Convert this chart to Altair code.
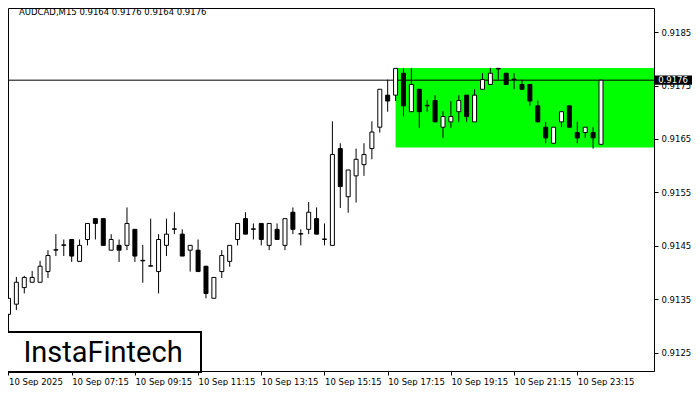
import json
import altair as alt
import pandas as pd

# ---- data (AUDCAD M15 candles, 10 Sep 2025 05:15 .. 11 Sep 00:00) ----
opens = [0.91322, 0.91341, 0.91372, 0.91382, 0.91382, 0.91402, 0.91442, 0.91451, 0.91462, 0.91421,
         0.91462, 0.91501, 0.91501, 0.91442, 0.91451, 0.91451, 0.91481, 0.91422, 0.91412, 0.91402,
         0.91451, 0.91481, 0.91472, 0.91442, 0.91442, 0.91412, 0.91352, 0.91402, 0.91421, 0.91462,
         0.91501, 0.91481, 0.91492, 0.91451, 0.91481, 0.91451, 0.91513, 0.91472, 0.91481, 0.91501,
         0.91462, 0.91451, 0.91632, 0.91542, 0.91581, 0.91602, 0.91632, 0.91672, 0.91732, 0.91732,
         0.91773, 0.91701, 0.91743, 0.91712, 0.91722, 0.91672, 0.91682, 0.91701, 0.91732, 0.91682,
         0.91743, 0.91752, 0.91781, 0.91773, 0.91762, 0.91752, 0.91752, 0.91712, 0.91672, 0.91642,
         0.91682, 0.91712, 0.91662, 0.91662, 0.91662, 0.91640]
highs = [0.91361, 0.91392, 0.91394, 0.91403, 0.91422, 0.91442, 0.91472, 0.91462, 0.91462, 0.91462,
         0.91492, 0.91501, 0.91501, 0.91472, 0.91462, 0.91522, 0.91481, 0.91452, 0.91501, 0.91472,
         0.91501, 0.91513, 0.91481, 0.91451, 0.91462, 0.91412, 0.91391, 0.91442, 0.91451, 0.91492,
         0.91513, 0.91492, 0.91492, 0.91492, 0.91492, 0.91501, 0.91522, 0.91481, 0.91532, 0.91522,
         0.91492, 0.91683, 0.91642, 0.91592, 0.91632, 0.91642, 0.91683, 0.91743, 0.91761, 0.91782,
         0.91782, 0.91782, 0.91743, 0.91723, 0.91732, 0.91702, 0.91721, 0.91732, 0.91732, 0.91743,
         0.91773, 0.91783, 0.91783, 0.91773, 0.91773, 0.91761, 0.91752, 0.91722, 0.91682, 0.91672,
         0.91701, 0.91712, 0.91682, 0.91672, 0.91672, 0.91760]
lows = [0.91311, 0.91330, 0.91361, 0.91382, 0.91382, 0.91390, 0.91431, 0.91431, 0.91420, 0.91421,
        0.91451, 0.91462, 0.91451, 0.91442, 0.91420, 0.91442, 0.91420, 0.91381, 0.91412, 0.91361,
        0.91431, 0.91472, 0.91431, 0.91402, 0.91402, 0.91352, 0.91352, 0.91390, 0.91411, 0.91451,
        0.91472, 0.91462, 0.91451, 0.91442, 0.91462, 0.91442, 0.91472, 0.91451, 0.91472, 0.91472,
        0.91451, 0.91451, 0.91521, 0.91512, 0.91531, 0.91581, 0.91612, 0.91662, 0.91701, 0.91721,
        0.91692, 0.91701, 0.91671, 0.91701, 0.91682, 0.91652, 0.91671, 0.91682, 0.91682, 0.91682,
        0.91743, 0.91752, 0.91761, 0.91752, 0.91743, 0.91743, 0.91712, 0.91682, 0.91642, 0.91642,
        0.91672, 0.91672, 0.91642, 0.91652, 0.91632, 0.91640]
closes = [0.91352, 0.91382, 0.91391, 0.91391, 0.91412, 0.91432, 0.91443, 0.91452, 0.91431, 0.91451,
          0.91492, 0.91492, 0.91451, 0.91462, 0.91442, 0.91492, 0.91431, 0.91423, 0.91413, 0.91462,
          0.91472, 0.91482, 0.91431, 0.91451, 0.91402, 0.91361, 0.91391, 0.91432, 0.91451, 0.91492,
          0.91472, 0.91482, 0.91462, 0.91492, 0.91462, 0.91501, 0.91481, 0.91473, 0.91513, 0.91472,
          0.91463, 0.91621, 0.91561, 0.91592, 0.91612, 0.91621, 0.91663, 0.91743, 0.91721, 0.91782,
          0.91712, 0.91752, 0.91701, 0.91713, 0.91682, 0.91692, 0.91692, 0.91722, 0.91692, 0.91732,
          0.91761, 0.91773, 0.91782, 0.91752, 0.91761, 0.91743, 0.91721, 0.91682, 0.91652, 0.91672,
          0.91701, 0.91672, 0.91652, 0.91672, 0.91652, 0.91760]

tick_index = [0, 8, 16, 24, 32, 40, 48, 56, 64, 72]
tick_labels = ["10 Sep 2025", "10 Sep 07:15", "10 Sep 09:15", "10 Sep 11:15", "10 Sep 13:15",
               "10 Sep 15:15", "10 Sep 17:15", "10 Sep 19:15", "10 Sep 21:15", "10 Sep 23:15"]
price_ticks = [0.9125, 0.9135, 0.9145, 0.9155, 0.9165, 0.9175, 0.9185]

header_text = "AUDCAD,M15  0.9164 0.9176 0.9164 0.9176"
last_price = 0.9176
last_label = "0.9176"
zone_start = 49
zone_high = 0.91783
zone_low = 0.91634
logo_text = "InstaFintech"

# ---- frame ----
W, H = 646, 363
X_DOMAIN = [-0.06, 81.71]
Y_DOMAIN = [0.91216, 0.91895]
FONT = "DejaVu Sans"
FS = 8.5

df = pd.DataFrame({"i": list(range(len(opens))), "open": opens, "high": highs,
                   "low": lows, "close": closes})
df["top"] = df[["open", "close"]].max(axis=1)
df["bot"] = df[["open", "close"]].min(axis=1)
df["bull"] = df["close"] >= df["open"]

xs = alt.Scale(domain=X_DOMAIN, nice=False, zero=False, padding=0)
ys = alt.Scale(domain=Y_DOMAIN, nice=False, zero=False, padding=0)

label_expr = f"{json.dumps(tick_labels)}[indexof({json.dumps(tick_index)}, datum.value)]"

x_axis = alt.Axis(values=tick_index, labelExpr=label_expr, title=None, grid=False, domain=False,
                  ticks=True, tickSize=4, tickColor="black", labelAlign="left", labelBaseline="top",
                  labelPadding=2, labelFont=FONT, labelFontSize=FS, labelColor="black",
                  labelOverlap=False, labelFlush=False)
y_axis = alt.Axis(values=price_ticks, format=".4f", orient="right", title=None, grid=False,
                  domain=False, ticks=True, tickSize=4, tickColor="black", labelPadding=3,
                  labelFont=FONT, labelFontSize=FS, labelColor="black", labelOverlap=False,
                  labelFlush=False)


def X(field):
    return alt.X(field, scale=xs, axis=x_axis)


def Y(field):
    return alt.Y(field, scale=ys, axis=y_axis)


one = pd.DataFrame({"k": [0]})

zone = alt.Chart(pd.DataFrame({"start": [zone_start], "hi": [zone_high], "lo": [zone_low]})).mark_rect(
    color="#00FF00", clip=True
).encode(x=X("start:Q"), x2=alt.value(W), y=Y("hi:Q"), y2="lo:Q")

pline = alt.Chart(pd.DataFrame({"p": [last_price]})).mark_rule(color="black", strokeWidth=1).encode(
    x=alt.value(0), x2=alt.value(W), y=Y("p:Q")
)

wicks = alt.Chart(df).mark_rule(color="black", strokeWidth=1).encode(
    x=X("i:Q"), y=Y("low:Q"), y2="high:Q"
)

bodies = alt.Chart(df).mark_bar(size=4, stroke="black", strokeWidth=1).encode(
    x=X("i:Q"), y=Y("top:Q"), y2="bot:Q",
    fill=alt.condition("datum.bull", alt.value("white"), alt.value("black")),
)

logo_box = alt.Chart(one).mark_rect(fill="white", stroke="black", strokeWidth=2).encode(
    x=alt.value(-1), x2=alt.value(193), y=alt.value(H - 39), y2=alt.value(H + 1)
)
logo = alt.Chart(pd.DataFrame({"t": [logo_text]})).mark_text(
    font="Roboto", fontSize=29, fontWeight=400, color="black", align="center", baseline="alphabetic"
).encode(x=alt.value(95), y=alt.value(H - 9), text="t:N")

header = alt.Chart(pd.DataFrame({"t": [header_text]})).mark_text(
    font=FONT, fontSize=FS, color="black", align="left", baseline="alphabetic"
).encode(x=alt.value(11), y=alt.value(7), text="t:N")

price_box = alt.Chart(pd.DataFrame({"p": [last_price]})).mark_point(
    shape="M-1,-0.25L1,-0.25L1,0.25L-1,0.25Z", size=1369, filled=True, color="black", opacity=1
).encode(x=alt.value(W + 19.5), y=Y("p:Q"))

price_text = alt.Chart(pd.DataFrame({"p": [last_price], "t": [last_label]})).mark_text(
    font=FONT, fontSize=FS, color="white", align="center", baseline="middle"
).encode(x=alt.value(W + 19), y=Y("p:Q"), text="t:N")

chart = alt.layer(zone, pline, wicks, bodies, logo_box, logo, header, price_box, price_text).properties(
    width=W, height=H,
    autosize=alt.AutoSizeParams(type="none"),
    padding={"left": 0, "top": 0, "right": 38, "bottom": 15},
    background="white",
).configure_view(stroke="black", strokeWidth=1)

chart.save("out.html", embed_options={"renderer": "svg", "actions": False})
